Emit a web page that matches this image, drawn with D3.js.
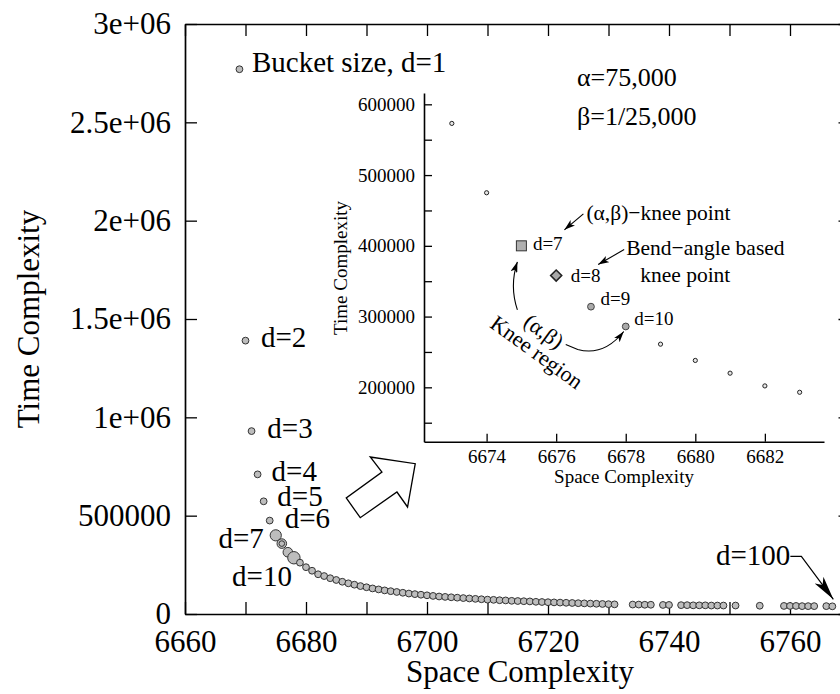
<!DOCTYPE html>
<html>
<head>
<meta charset="utf-8">
<script src="https://cdn.jsdelivr.net/npm/d3@7"></script>
<style>
  body { margin: 0; background: #fff; }
  svg { display: block; }
  text { font-family: "Liberation Serif", "Times New Roman", Times, serif; fill: #000; }
</style>
</head>
<body>
<svg id="chart" width="840" height="694"></svg>
<script>
// ---------- data ----------
// space complexity of each bucket configuration (d = 1, 2, 3, ...)
const spaceValues = [
  6669, 6670, 6671, 6672, 6673, 6674, 6675, 6676, 6677, 6678,
  6679, 6680, 6681, 6682, 6683, 6684, 6685, 6686, 6687, 6688,
  6689, 6690, 6691, 6692, 6693, 6694, 6695, 6696, 6697, 6698,
  6699, 6700, 6701, 6702, 6703, 6704, 6705, 6706, 6707, 6708,
  6709, 6710, 6711, 6712, 6713, 6714, 6715, 6716, 6717, 6718,
  6719, 6720, 6721, 6722, 6723, 6724, 6725, 6726, 6727, 6728,
  6729, 6730, 6731,
  6734, 6735, 6736, 6737, 6739, 6740,
  6742, 6743, 6744, 6745, 6746, 6747, 6748, 6749,
  6751, 6755,
  6759, 6760, 6761, 6762, 6763, 6764,
  6766, 6767
];
// time complexity for the same configurations
const timeValues = [
  2770000, 1390000, 930000, 710000, 573000, 475000, 400000, 358000, 314000, 286000,
  261000, 238000, 220000, 202000, 193000, 182000, 173000, 164000, 156000, 149000,
  142000, 136000, 130000, 125000, 120000, 116000, 112000, 108000, 104000, 101000,
  98000, 95000, 92000, 89000, 87000, 85000, 83000, 81000, 79000, 77000,
  75000, 73000, 72000, 70000, 69000, 67000, 66000, 65000, 64000, 62000,
  61000, 60000, 59000, 58000, 57000, 56000, 55000, 54000, 53000, 52000,
  51000, 50000, 49000,
  48000, 48000, 47000, 47000, 46000, 46000,
  45000, 45000, 44000, 44000, 44000, 43000, 43000, 43000,
  43000, 42000,
  41000, 41000, 41000, 40000, 40000, 40000,
  40000, 39000
];

// main axes
const spaceDomain = [6660, 6770];
const timeDomain = [0, 3000000];
const xTicks = [6660, 6670, 6680, 6690, 6700, 6710, 6720, 6730, 6740, 6750, 6760, 6770];
const xTickLabels = [6660, 6680, 6700, 6720, 6740, 6760];
const yTicks = [0, 500000, 1000000, 1500000, 2000000, 2500000, 3000000];
const yTickLabels = ["0", "500000", "1e+06", "1.5e+06", "2e+06", "2.5e+06", "3e+06"];

// inset (zoom on the knee)
const insetSpaceDomain = [6672.2, 6683.7];
const insetTimeDomain = [123150, 616000];
const insetXTicks = [6674, 6676, 6678, 6680, 6682];
const insetYTicks = [150000, 200000, 250000, 300000, 350000, 400000, 450000, 500000, 550000, 600000];
const insetYTickLabels = [200000, 300000, 400000, 500000, 600000];

const points = spaceValues.map((s, i) => ({ d: i + 1, space: s, time: timeValues[i] }));

// ---------- drawing ----------
const svg = d3.select("#chart");
const FONT = '"Liberation Serif", "Times New Roman", Times, serif';
const GRAY = "#bdbdbd";
const EDGE = "#333";

const defs = svg.append("defs");
function arrowMarker(id, len, wid) {
  defs.append("marker")
    .attr("id", id)
    .attr("viewBox", `0 0 ${len} ${wid}`)
    .attr("refX", len).attr("refY", wid / 2)
    .attr("markerWidth", len).attr("markerHeight", wid)
    .attr("markerUnits", "userSpaceOnUse")
    .attr("orient", "auto")
    .append("path")
    .attr("d", `M0,0 L${len},${wid / 2} L0,${wid} L${len * 0.25},${wid / 2} Z`)
    .attr("fill", "#000");
}
arrowMarker("headBig", 24, 11);
arrowMarker("headSmall", 11, 7);

const x = d3.scaleLinear().domain(spaceDomain).range([185, 850.5]);
const y = d3.scaleLinear().domain(timeDomain).range([614, 24]);

function styleAxis(g, size) {
  g.attr("font-family", FONT).attr("font-size", size);
  g.select(".domain").attr("stroke", "#000").attr("stroke-width", 1.7);
  g.selectAll(".tick line").attr("stroke", "#000").attr("stroke-width", 1.3);
  g.selectAll(".tick text").attr("fill", "#000");
}

// frame: bottom / left carry labels, top / right carry only ticks
svg.append("g").attr("transform", "translate(0,614)")
  .call(d3.axisBottom(x).tickValues(xTicks).tickSize(-12).tickSizeOuter(0).tickPadding(16)
    .tickFormat(v => xTickLabels.includes(v) ? String(v) : ""))
  .call(g => styleAxis(g, 31));
svg.append("g").attr("transform", "translate(0,24)")
  .call(d3.axisTop(x).tickValues(xTicks).tickSize(-12).tickSizeOuter(0).tickFormat(""))
  .call(g => styleAxis(g, 31));
svg.append("g").attr("transform", "translate(185,0)")
  .call(d3.axisLeft(y).tickValues(yTicks).tickSize(-12).tickSizeOuter(0).tickPadding(14)
    .tickFormat((v, i) => yTickLabels[i]))
  .call(g => styleAxis(g, 31));
svg.append("g").attr("transform", `translate(${x(spaceDomain[1])},0)`)
  .call(d3.axisRight(y).tickValues(yTicks).tickSize(-12).tickSizeOuter(0).tickFormat(""))
  .call(g => styleAxis(g, 31));

// axis titles
svg.append("text").attr("x", 520).attr("y", 682)
  .attr("text-anchor", "middle").attr("font-size", 31).text("Space Complexity");
svg.append("text").attr("transform", `translate(39,${(24 + 614) / 2}) rotate(-90)`)
  .attr("text-anchor", "middle").attr("font-size", 31).text("Time Complexity");

// main series
const mainRadius = { 7: 5.6, 8: 4.8, 9: 4.8, 10: 6.2 };
const pts = svg.append("g");
pts.selectAll("circle.pt").data(points).join("circle")
  .attr("class", "pt")
  .attr("cx", p => x(p.space)).attr("cy", p => y(p.time))
  .attr("r", p => mainRadius[p.d] || 3.4)
  .attr("fill", GRAY).attr("stroke", EDGE).attr("stroke-width", 1);
// ring on the bend-angle knee point
pts.selectAll("circle.ring").data(points.filter(p => p.d === 8)).join("circle")
  .attr("class", "ring")
  .attr("cx", p => x(p.space)).attr("cy", p => y(p.time))
  .attr("r", 2.8).attr("fill", "none").attr("stroke", EDGE).attr("stroke-width", 1);

// point labels
const byD = d => points[d - 1];
const mainLabels = [
  { d: 1, text: "Bucket size, d=1", dx: 12.5, dy: 3, anchor: "start" },
  { d: 2, text: "d=2", dx: 15.5, dy: 6, anchor: "start" },
  { d: 3, text: "d=3", dx: 15.8, dy: 7, anchor: "start" },
  { d: 4, text: "d=4", dx: 14, dy: 6.6, anchor: "start" },
  { d: 5, text: "d=5", dx: 13.7, dy: 5, anchor: "start" },
  { d: 6, text: "d=6", dx: 15, dy: 7, anchor: "start" },
  { d: 7, text: "d=7", dx: -12, dy: 13, anchor: "end" },
  { d: 10, text: "d=10", dx: -2, dy: 28, anchor: "end" }
];
svg.append("g").selectAll("text").data(mainLabels).join("text")
  .attr("x", l => x(byD(l.d).space) + l.dx)
  .attr("y", l => y(byD(l.d).time) + l.dy)
  .attr("text-anchor", l => l.anchor)
  .attr("font-size", 29)
  .text(l => l.text);

// last configuration, d=100
const last = points[points.length - 1];
const lx = x(last.space), ly = y(last.time);
svg.append("text").attr("x", lx - 42).attr("y", ly - 41)
  .attr("text-anchor", "end").attr("font-size", 29).text("d=100");
svg.append("path")
  .attr("d", `M${lx - 42},${ly - 50} L${lx - 31},${ly - 50} L${lx + 1},${ly - 7}`)
  .attr("fill", "none").attr("stroke", "#000").attr("stroke-width", 1.2)
  .attr("marker-end", "url(#headBig)");

// hollow block arrow pointing into the inset
const bx = x(6685), by = y(600000);
const blockArrow = [[0, 0], [45, 6.7], [37.3, 50], [26.7, 35], [-10, 60.7], [-24, 41], [11.7, 15]];
svg.append("path")
  .attr("transform", `translate(${bx + 34},${by - 39})`)
  .attr("d", d3.line()(blockArrow) + "Z")
  .attr("fill", "#fff").attr("stroke", "#000").attr("stroke-width", 1.3);

// ---------- inset ----------
const xi = d3.scaleLinear().domain(insetSpaceDomain).range([424, 824]);
const yi = d3.scaleLinear().domain(insetTimeDomain).range([441.7, 93]);
const inset = svg.append("g");

inset.append("g").attr("transform", "translate(0,441.7)")
  .call(d3.axisBottom(xi).tickValues(insetXTicks).tickSize(-8).tickSizeOuter(0).tickPadding(8)
    .tickFormat(d3.format("d")))
  .call(g => styleAxis(g, 19));
inset.append("g").attr("transform", "translate(424,0)")
  .call(d3.axisLeft(yi).tickValues(insetYTicks).tickSize(-8).tickSizeOuter(0).tickPadding(9)
    .tickFormat(v => insetYTickLabels.includes(v) ? String(v) : ""))
  .call(g => styleAxis(g, 19));
inset.selectAll(".domain").attr("stroke-width", 1.6);

inset.append("text").attr("x", 624).attr("y", 483).attr("text-anchor", "middle")
  .attr("font-size", 19).text("Space Complexity");
inset.append("text").attr("transform", "translate(347,268) rotate(-90)")
  .attr("text-anchor", "middle").attr("font-size", 19).text("Time Complexity");

const insetPts = points.filter(p => p.space >= 6673 && p.space <= 6683);
inset.selectAll("circle.small").data(insetPts.filter(p => p.d < 7 || p.d > 10)).join("circle")
  .attr("class", "small")
  .attr("cx", p => xi(p.space)).attr("cy", p => yi(p.time))
  .attr("r", 2.1).attr("fill", "#e6e6e6").attr("stroke", "#222").attr("stroke-width", 1);
inset.selectAll("circle.mid").data(insetPts.filter(p => p.d === 9 || p.d === 10)).join("circle")
  .attr("class", "mid")
  .attr("cx", p => xi(p.space)).attr("cy", p => yi(p.time))
  .attr("r", 3.4).attr("fill", "#aaa").attr("stroke", "#444").attr("stroke-width", 1);
inset.selectAll("rect.sq").data(insetPts.filter(p => p.d === 7)).join("rect")
  .attr("class", "sq")
  .attr("x", p => xi(p.space) - 5).attr("y", p => yi(p.time) - 5)
  .attr("width", 10).attr("height", 10)
  .attr("fill", "#b0b0b0").attr("stroke", "#333").attr("stroke-width", 1);
inset.selectAll("path.dia").data(insetPts.filter(p => p.d === 8)).join("path")
  .attr("class", "dia")
  .attr("d", p => {
    const cx = xi(p.space), cy = yi(p.time);
    return `M${cx},${cy - 5.5} L${cx + 5.5},${cy} L${cx},${cy + 5.5} L${cx - 5.5},${cy} Z`;
  })
  .attr("fill", "#a8a8a8").attr("stroke", "#222").attr("stroke-width", 1.6);

// inset point labels
const insetLabels = [
  { d: 7, text: "d=7", dx: 11.5, dy: 4.5 },
  { d: 8, text: "d=8", dx: 14.5, dy: 6 },
  { d: 9, text: "d=9", dx: 9.5, dy: -1.5 },
  { d: 10, text: "d=10", dx: 8.5, dy: -1.5 }
];
inset.selectAll("text.pl").data(insetLabels).join("text")
  .attr("class", "pl")
  .attr("x", l => xi(byD(l.d).space) + l.dx)
  .attr("y", l => yi(byD(l.d).time) + l.dy)
  .attr("font-size", 19).text(l => l.text);

// parameters
inset.append("text").attr("x", 577).attr("y", 86).attr("font-size", 26).text("α=75,000");
inset.append("text").attr("x", 577).attr("y", 125).attr("font-size", 26).text("β=1/25,000");

// knee annotations
const k7x = xi(6675), k7y = yi(400000);
const k8x = xi(6676), k8y = yi(byD(8).time);
inset.append("text").attr("x", k7x + 65).attr("y", k7y - 26).attr("font-size", 21.5)
  .text("(α,β)−knee point");
inset.append("path").attr("d", `M${k7x + 62},${k7y - 32} L${k7x + 43},${k7y - 16}`)
  .attr("stroke", "#000").attr("stroke-width", 1.1).attr("fill", "none")
  .attr("marker-end", "url(#headSmall)");
inset.append("text").attr("x", k8x + 70).attr("y", k8y - 21).attr("font-size", 21.5)
  .text("Bend−angle based");
inset.append("text").attr("x", k8x + 84).attr("y", k8y + 6).attr("font-size", 21.5)
  .text("knee point");
inset.append("path").attr("d", `M${k8x + 68},${k8y - 26} L${k8x + 42},${k8y - 11}`)
  .attr("stroke", "#000").attr("stroke-width", 1.1).attr("fill", "none")
  .attr("marker-end", "url(#headSmall)");

// knee region
inset.append("text")
  .attr("transform", "translate(544,331) rotate(36)")
  .attr("text-anchor", "middle").attr("dy", "0.35em").attr("font-size", 22).text("(α,β)");
inset.append("text")
  .attr("transform", "translate(537,352) rotate(36)")
  .attr("text-anchor", "middle").attr("dy", "0.35em").attr("font-size", 22).text("Knee region");
inset.append("path")
  .attr("d", `M${k7x - 4},${k7y + 64} Q${k7x - 12},${k7y + 40} ${k7x - 4},${k7y + 16}`)
  .attr("stroke", "#000").attr("stroke-width", 1.1).attr("fill", "none")
  .attr("marker-end", "url(#headSmall)");
const k10x = xi(6678), k10y = yi(byD(10).time);
inset.append("path")
  .attr("d", `M${k10x - 60},${k10y + 18} L${k10x - 48},${k10y + 23} Q${k10x - 22},${k10y + 30} ${k10x - 2},${k10y + 5}`)
  .attr("stroke", "#000").attr("stroke-width", 1.1).attr("fill", "none")
  .attr("marker-end", "url(#headSmall)");
</script>
</body>
</html>
